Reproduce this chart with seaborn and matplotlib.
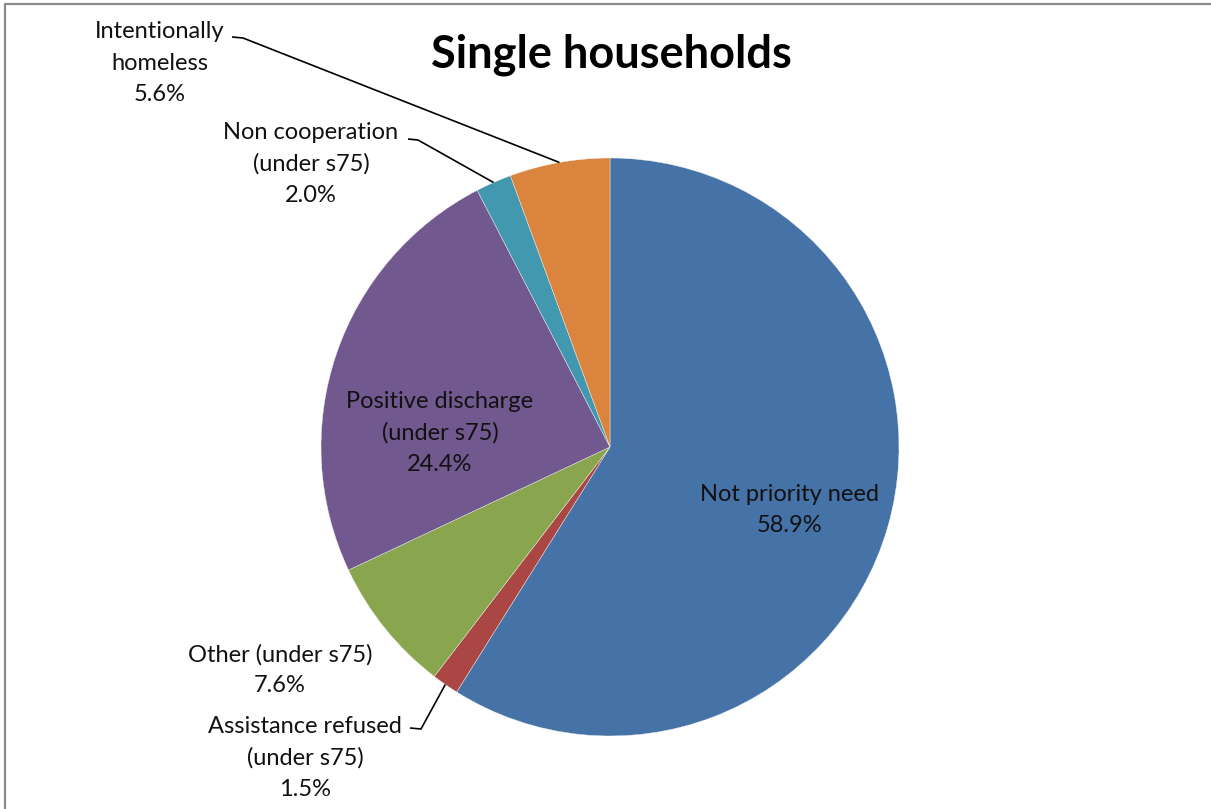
import numpy as np
import matplotlib
matplotlib.use("Agg")
import matplotlib.pyplot as plt
from matplotlib.lines import Line2D
import seaborn as sns

# Outcome categories for single households, in clockwise order from the top
categories = [
    "Not priority need",
    "Assistance refused\n(under s75)",
    "Other (under s75)",
    "Positive discharge\n(under s75)",
    "Non cooperation\n(under s75)",
    "Intentionally\nhomeless",
]
shares = [58.9, 1.5, 7.6, 24.4, 2.0, 5.6]
colors = ["#4572A7", "#AA4643", "#89A54E", "#71588F", "#4198AF", "#DB843D"]

sns.set_theme(style="white")
plt.rcParams["font.family"] = ["Lato", "DejaVu Sans"]

W, H = 1211, 809
fig = plt.figure(figsize=(W / 100, H / 100), dpi=100, facecolor="white")
ax = fig.add_axes([0, 0, 1, 1])

# Chart frame (left and top edges)
fy = (H - 3.5) / H
fx = 4.5 / W
fig.add_artist(Line2D([fx, fx], [-0.05, fy], transform=fig.transFigure,
                      color="#8c8c8c", linewidth=1.6))
fig.add_artist(Line2D([fx, 1.05], [fy, fy], transform=fig.transFigure,
                      color="#8c8c8c", linewidth=1.6))

cx, cy, r = 610, H - 447, 289
palette = sns.color_palette(colors)
wedges, _ = ax.pie(shares, colors=palette, startangle=90, counterclock=False,
                   center=(cx, cy), radius=r, frame=True,
                   wedgeprops=dict(edgecolor="#f0f0f0", linewidth=0.3))
ax.set_xlim(0, W)
ax.set_ylim(0, H)
ax.set_aspect("equal")
ax.axis("off")

fs = 17
txt_kw = dict(ha="center", va="center", fontsize=fs, color="#111111", linespacing=1.6)


def label(i):
    return f"{categories[i]}\n{shares[i]:.1f}%"


def mid_point(i, rad=r):
    w = wedges[i]
    ang = np.deg2rad((w.theta1 + w.theta2) / 2)
    return cx + rad * np.cos(ang), cy + rad * np.sin(ang)


# Labels placed inside their slices
ax.text(790, H - 510, label(0), **txt_kw)
ax.text(440, H - 433, label(3), **txt_kw)

# Labels placed outside
ax.text(160, H - 63, label(5), **txt_kw)
ax.text(311, H - 164, label(4), **txt_kw)
ax.text(280, H - 670, label(2), **txt_kw)
ax.text(305, H - 758, label(1), **txt_kw)

# Leader lines from outside labels to their slices
leaders = {5: (232, 243, 37), 4: (408, 418, 139), 1: (410, 421, 728)}
for i, (x0, x1, y) in leaders.items():
    ex, ey = mid_point(i)
    ax.plot([x0, x1, ex], [H - y, H - y - 1, ey], color="black", linewidth=1.2,
            solid_capstyle="butt")

ax.text(611, H - 55, "Single households", ha="center", va="center",
        fontsize=32.5, fontweight="bold", color="black")

fig.savefig("out.png", dpi=100, facecolor="white")
